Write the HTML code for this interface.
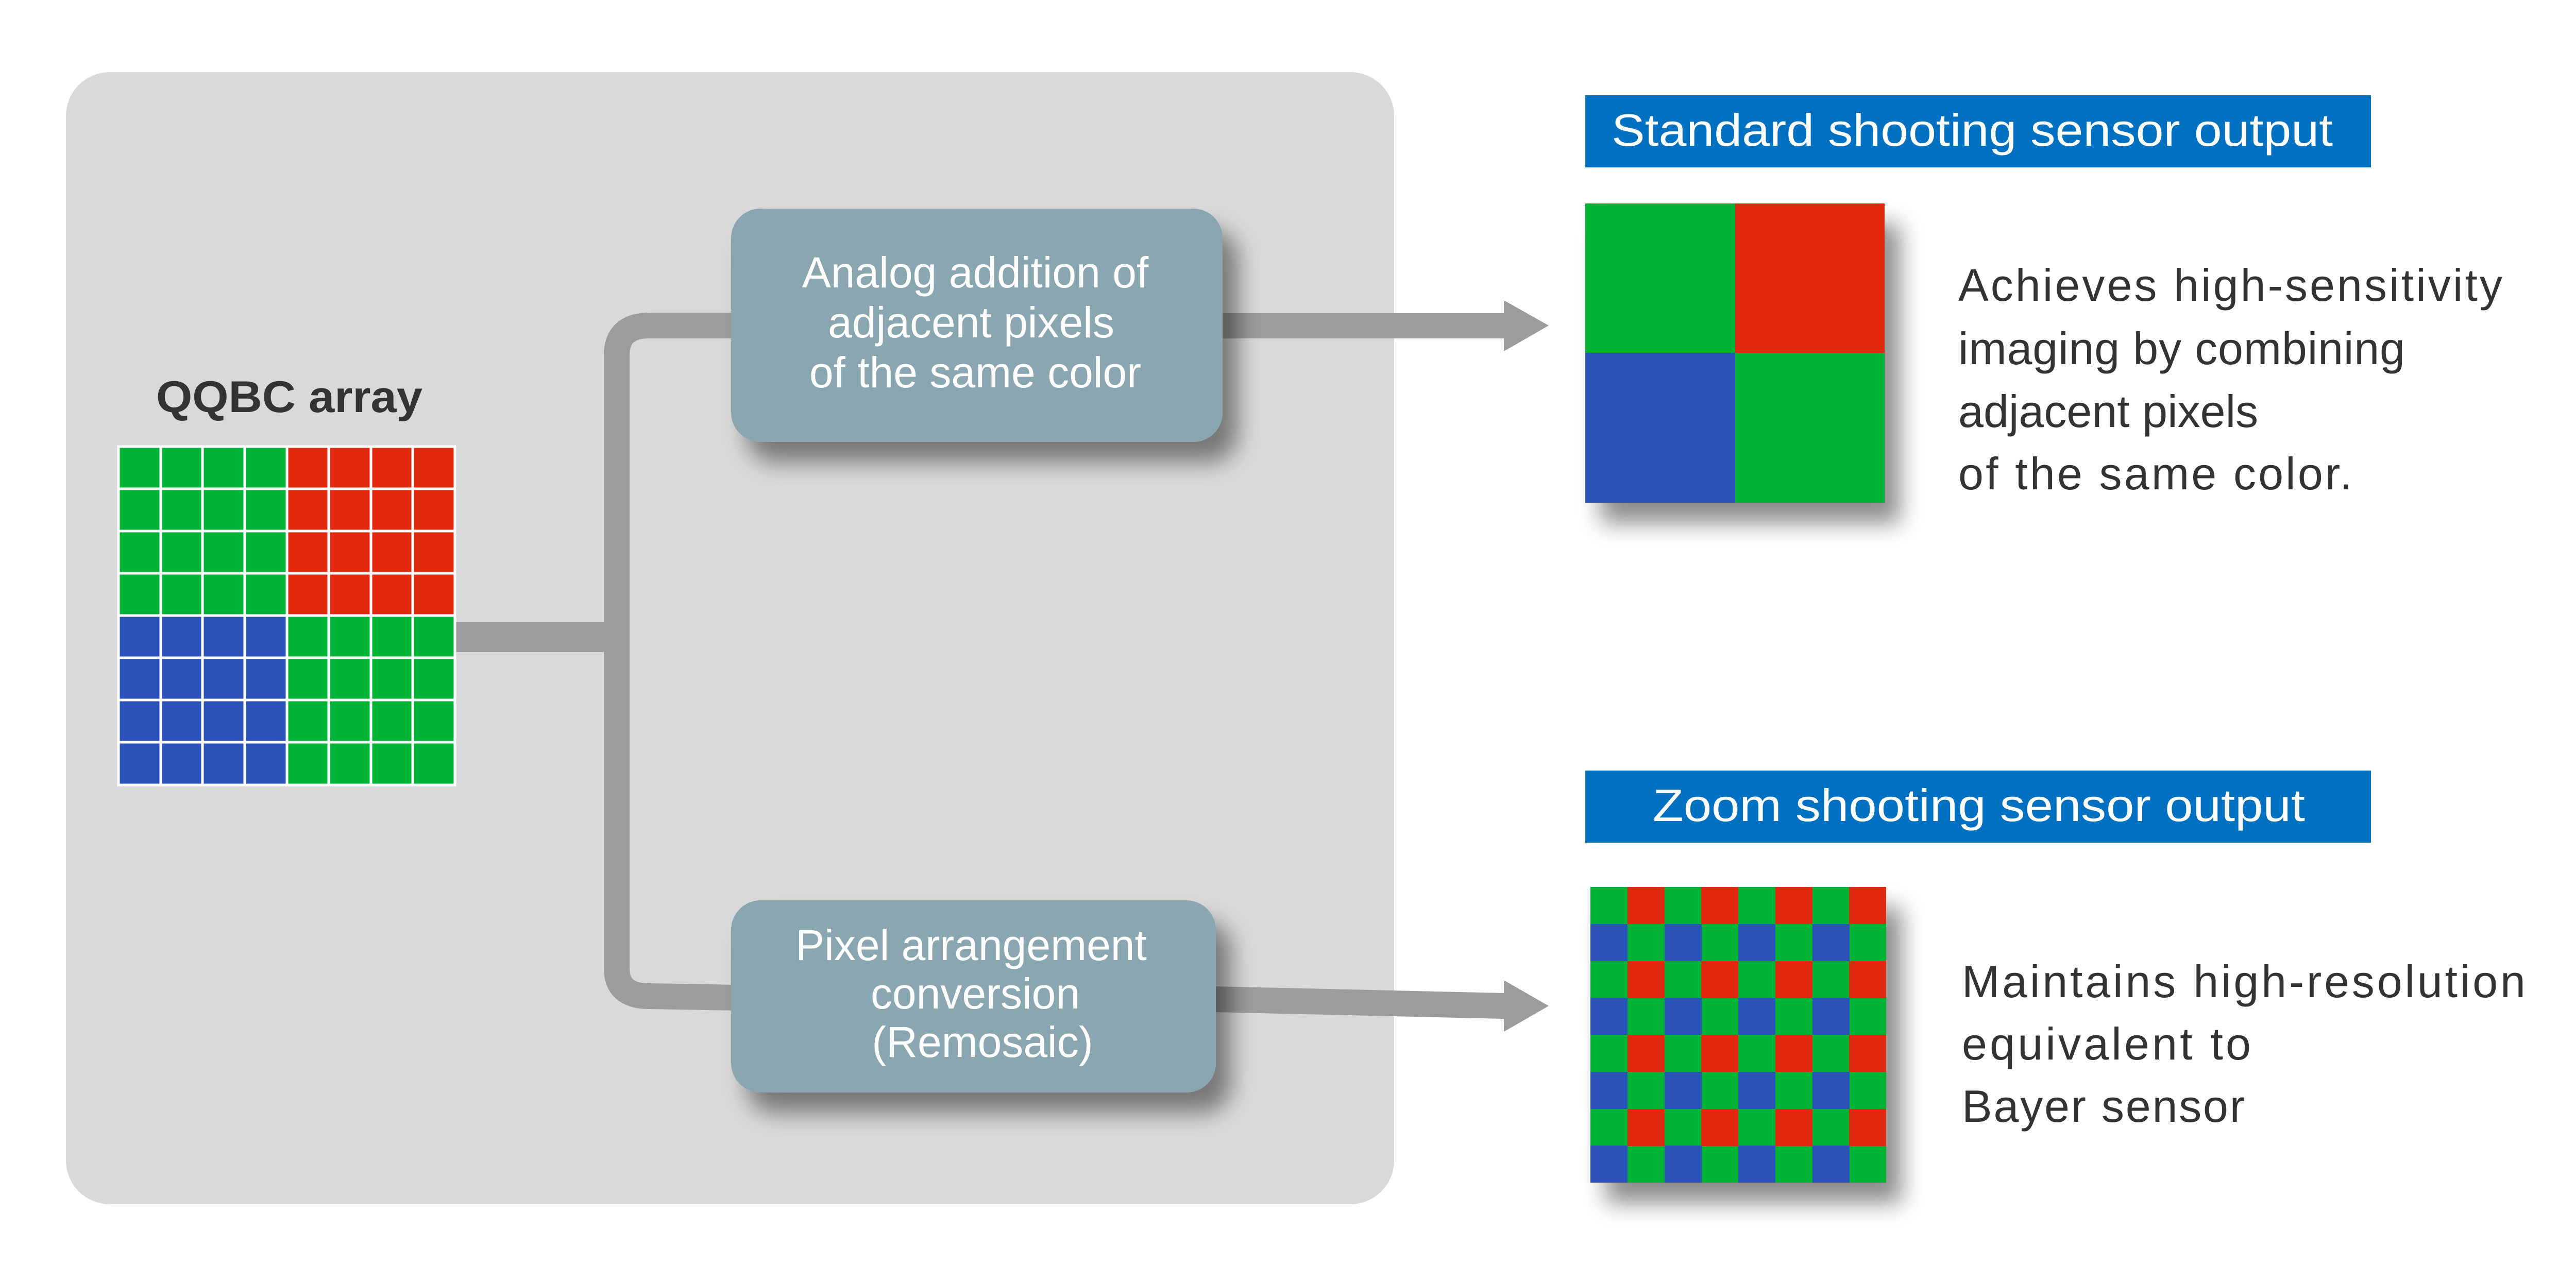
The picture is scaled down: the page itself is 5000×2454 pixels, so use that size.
<!DOCTYPE html>
<html><head><meta charset="utf-8"><style>
html,body{margin:0;padding:0;background:#fff;}
svg{display:block;}
</style></head><body>
<svg width="5000" height="2454" viewBox="0 0 5000 2454" xmlns="http://www.w3.org/2000/svg">
<defs>
<filter id="sh" x="-20%" y="-20%" width="150%" height="160%">
<feGaussianBlur in="SourceAlpha" stdDeviation="22"/>
<feOffset dx="30" dy="40"/>
<feComponentTransfer><feFuncA type="linear" slope="0.45"/></feComponentTransfer>
<feMerge><feMergeNode/><feMergeNode in="SourceGraphic"/></feMerge>
</filter>
</defs>
<rect x="128" y="140" width="2578" height="2198" rx="85" fill="#d9d9d9"/>

<rect x="883" y="1208" width="320" height="58" fill="#9c9c9c"/>
<path d="M1430 632 L1260 632 Q1197 632 1197 690 L1197 1880 Q1197 1934 1260 1934 L1430 1937" fill="none" stroke="#9c9c9c" stroke-width="50"/>
<polygon points="2360,608 2919,608 2919,583 3006,632 2919,682 2919,657 2360,657" fill="#9c9c9c"/>
<polygon points="2360,1915 2919,1928 2919,1903 3006,1953 2919,2003 2919,1978 2360,1965" fill="#9c9c9c"/>

<rect x="1419" y="405" width="954" height="453" rx="57" fill="#8aa6b1" filter="url(#sh)"/>
<rect x="1419" y="1748" width="941" height="373" rx="57" fill="#8aa6b1" filter="url(#sh)"/>
<g font-family="'Liberation Sans Narrow','Liberation Sans',sans-serif" font-size="84" fill="#fff" text-anchor="middle">
<text x="1893" y="558">Analog addition of</text>
<text x="1885" y="655">adjacent pixels</text>
<text x="1893" y="752">of the same color</text>
<text x="1885" y="1864">Pixel arrangement</text>
<text x="1893" y="1958">conversion</text>
<text x="1907" y="2052">(Remosaic)</text>
</g>

<text x="303" y="800" font-family="'Liberation Sans',sans-serif" font-weight="bold" font-size="86" fill="#333" textLength="517" lengthAdjust="spacingAndGlyphs">QQBC array</text>

<rect x="230" y="867" width="327" height="328" fill="#00b336"/>
<rect x="557" y="867" width="326" height="328" fill="#e0290f"/>
<rect x="230" y="1195" width="327" height="329" fill="#2a52b8"/>
<rect x="557" y="1195" width="326" height="329" fill="#00b336"/>
<g stroke="#fff" stroke-width="5">
<rect x="230" y="867" width="653" height="657" fill="none"/>
<line x1="312" y1="867" x2="312" y2="1524"/><line x1="393" y1="867" x2="393" y2="1524"/><line x1="475" y1="867" x2="475" y2="1524"/><line x1="557" y1="867" x2="557" y2="1524"/><line x1="638" y1="867" x2="638" y2="1524"/><line x1="720" y1="867" x2="720" y2="1524"/><line x1="801" y1="867" x2="801" y2="1524"/>
<line x1="230" y1="949" x2="883" y2="949"/><line x1="230" y1="1031" x2="883" y2="1031"/><line x1="230" y1="1113" x2="883" y2="1113"/><line x1="230" y1="1195" x2="883" y2="1195"/><line x1="230" y1="1277" x2="883" y2="1277"/><line x1="230" y1="1359" x2="883" y2="1359"/><line x1="230" y1="1441" x2="883" y2="1441"/>
</g>

<rect x="3077" y="185" width="1525" height="140" fill="#0070c0"/>
<rect x="3077" y="1496" width="1525" height="140" fill="#0070c0"/>
<g font-family="'Liberation Sans',sans-serif" font-size="88" fill="#fff">
<text x="3128" y="283" textLength="1400" lengthAdjust="spacingAndGlyphs">Standard shooting sensor output</text>
<text x="3208" y="1594" textLength="1266" lengthAdjust="spacingAndGlyphs">Zoom shooting sensor output</text>
</g>

<g filter="url(#sh)">
<rect x="3077" y="395" width="581" height="581" fill="#00b336"/>
</g>
<rect x="3368" y="395" width="290" height="290" fill="#e0290f"/>
<rect x="3077" y="685" width="291" height="291" fill="#2a52b8"/>

<g filter="url(#sh)"><rect x="3087" y="1722" width="574" height="574" fill="#00b336"/></g>
<g>
<rect x="3159" y="1722" width="72" height="72" fill="#e0290f"/><rect x="3302" y="1722" width="72" height="72" fill="#e0290f"/><rect x="3446" y="1722" width="72" height="72" fill="#e0290f"/><rect x="3589" y="1722" width="72" height="72" fill="#e0290f"/>
<rect x="3087" y="1794" width="72" height="72" fill="#2a52b8"/><rect x="3231" y="1794" width="72" height="72" fill="#2a52b8"/><rect x="3374" y="1794" width="72" height="72" fill="#2a52b8"/><rect x="3518" y="1794" width="72" height="72" fill="#2a52b8"/>
<rect x="3159" y="1866" width="72" height="72" fill="#e0290f"/><rect x="3302" y="1866" width="72" height="72" fill="#e0290f"/><rect x="3446" y="1866" width="72" height="72" fill="#e0290f"/><rect x="3589" y="1866" width="72" height="72" fill="#e0290f"/>
<rect x="3087" y="1937" width="72" height="72" fill="#2a52b8"/><rect x="3231" y="1937" width="72" height="72" fill="#2a52b8"/><rect x="3374" y="1937" width="72" height="72" fill="#2a52b8"/><rect x="3518" y="1937" width="72" height="72" fill="#2a52b8"/>
<rect x="3159" y="2009" width="72" height="72" fill="#e0290f"/><rect x="3302" y="2009" width="72" height="72" fill="#e0290f"/><rect x="3446" y="2009" width="72" height="72" fill="#e0290f"/><rect x="3589" y="2009" width="72" height="72" fill="#e0290f"/>
<rect x="3087" y="2081" width="72" height="72" fill="#2a52b8"/><rect x="3231" y="2081" width="72" height="72" fill="#2a52b8"/><rect x="3374" y="2081" width="72" height="72" fill="#2a52b8"/><rect x="3518" y="2081" width="72" height="72" fill="#2a52b8"/>
<rect x="3159" y="2153" width="72" height="72" fill="#e0290f"/><rect x="3302" y="2153" width="72" height="72" fill="#e0290f"/><rect x="3446" y="2153" width="72" height="72" fill="#e0290f"/><rect x="3589" y="2153" width="72" height="72" fill="#e0290f"/>
<rect x="3087" y="2224" width="72" height="72" fill="#2a52b8"/><rect x="3231" y="2224" width="72" height="72" fill="#2a52b8"/><rect x="3374" y="2224" width="72" height="72" fill="#2a52b8"/><rect x="3518" y="2224" width="72" height="72" fill="#2a52b8"/>
</g>

<g font-family="'Liberation Sans',sans-serif" font-size="88" fill="#333">
<text x="3801" y="584" textLength="1056" lengthAdjust="spacing">Achieves high-sensitivity</text>
<text x="3801" y="707" textLength="867" lengthAdjust="spacing">imaging by combining</text>
<text x="3801" y="829">adjacent pixels</text>
<text x="3801" y="950" textLength="765" lengthAdjust="spacing">of the same color.</text>
<text x="3808" y="1936" textLength="1094" lengthAdjust="spacing">Maintains high-resolution</text>
<text x="3808" y="2057" textLength="561" lengthAdjust="spacing">equivalent to</text>
<text x="3808" y="2178" textLength="549" lengthAdjust="spacing">Bayer sensor</text>
</g>
</svg>
</body></html>
